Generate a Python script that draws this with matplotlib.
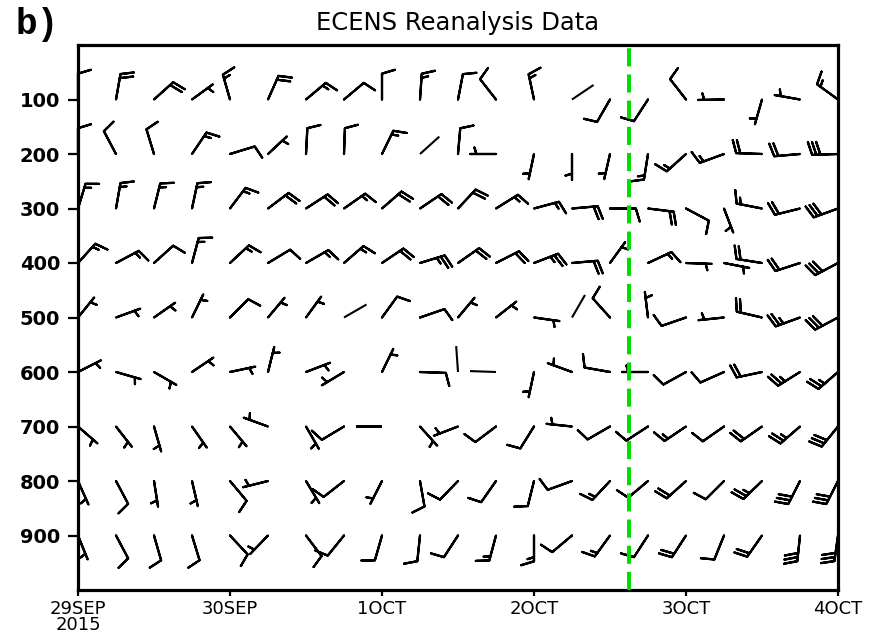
import numpy as np
import pandas as pd
import matplotlib
matplotlib.use('Agg')
import matplotlib.pyplot as plt
import matplotlib.dates as mdates

# 6-hourly times, 29 Sep 2015 00Z .. 4 Oct 2015 00Z
times = pd.date_range('2015-09-29 00:00', '2015-10-04 00:00', freq='6h')
levels = [100, 200, 300, 400, 500, 600, 700, 800, 900]

# wind speed (kt) and direction (deg, where the wind blows from), per level
wspd_100 = [10, 20, 20, 5, 15, 20, 15, 10, 10, 15, 10, 10, 15, 3, 10, 10, 10, 5, 5, 5, 15]
wdir_100 = [0, 10, 48, 54, 344, 24, 50, 50, 0, 4, 11, 322, 348, 56, 210, 213, 322, 269, 196, 280, 306]
wspd_200 = [10, 10, 10, 15, 10, 5, 10, 10, 15, 3, 10, 5, 5, 5, 5, 15, 15, 15, 20, 20, 30]
wdir_200 = [0, 332, 343, 34, 73, 47, 3, 2, 26, 48, 5, 270, 192, 180, 193, 189, 228, 250, 272, 265, 268]
wspd_300 = [15, 15, 15, 15, 15, 20, 20, 15, 20, 20, 20, 15, 15, 20, 10, 20, 10, 5, 15, 20, 30]
wdir_300 = [17, 10, 14, 12, 37, 53, 57, 55, 49, 56, 43, 58, 75, 85, 90, 97, 118, 159, 281, 256, 250]
wspd_400 = [15, 15, 10, 15, 15, 10, 15, 15, 20, 25, 20, 20, 25, 20, 5, 15, 5, 5, 20, 20, 30]
wdir_400 = [42, 62, 48, 15, 47, 59, 60, 49, 56, 73, 55, 63, 69, 85, 36, 65, 92, 101, 279, 252, 242]
wspd_500 = [5, 5, 5, 5, 10, 5, 5, 3, 10, 10, 5, 5, 5, 3, 10, 5, 10, 5, 20, 25, 30]
wdir_500 = [39, 70, 55, 26, 45, 40, 36, 60, 36, 71, 40, 52, 98, 30, 318, 353, 251, 264, 283, 250, 242]
wspd_600 = [5, 5, 5, 5, 5, 5, 5, 5, 5, 10, 3, 3, 5, 5, 10, 5, 10, 10, 20, 25, 25]
wdir_600 = [63, 106, 120, 56, 78, 14, 69, 239, 26, 92, 356, 272, 192, 290, 280, 270, 241, 246, 258, 238, 229]
wspd_700 = [5, 5, 5, 5, 5, 5, 5, 10, 3, 5, 5, 10, 10, 5, 10, 10, 15, 10, 20, 25, 30]
wdir_700 = [131, 142, 164, 145, 140, 290, 150, 239, 270, 138, 249, 233, 212, 276, 240, 237, 236, 235, 235, 229, 219]
wspd_800 = [5, 10, 5, 5, 10, 5, 5, 10, 5, 10, 10, 10, 10, 10, 15, 10, 20, 10, 25, 30, 30]
wdir_800 = [156, 152, 171, 167, 140, 256, 149, 232, 207, 170, 224, 215, 194, 250, 223, 230, 228, 225, 226, 207, 207]
wspd_900 = [5, 10, 10, 10, 10, 5, 10, 10, 10, 10, 10, 15, 15, 10, 15, 10, 20, 10, 20, 30, 30]
wdir_900 = [158, 152, 164, 163, 137, 224, 143, 219, 196, 186, 213, 195, 180, 230, 216, 213, 213, 202, 215, 186, 188]

xtick_dates = ['2015-09-29', '2015-09-30', '2015-10-01', '2015-10-02', '2015-10-03', '2015-10-04']
xtick_labels = ['29SEP\n2015', '30SEP', '1OCT', '2OCT', '3OCT', '4OCT']
mark_time = '2015-10-02 15:00'

wspd = np.array([wspd_100, wspd_200, wspd_300, wspd_400, wspd_500,
                 wspd_600, wspd_700, wspd_800, wspd_900], dtype=float)
wdir = np.array([wdir_100, wdir_200, wdir_300, wdir_400, wdir_500,
                 wdir_600, wdir_700, wdir_800, wdir_900], dtype=float)

x = mdates.date2num(times)
X, Y = np.meshgrid(x, levels)
rad = np.deg2rad(wdir)
U = -wspd * np.sin(rad)
V = -wspd * np.cos(rad)

calm = wspd < 5
Ub = np.where(calm, np.nan, U)
Vb = np.where(calm, np.nan, V)

fig = plt.figure(figsize=(8.79, 6.35), dpi=100)
ax = fig.add_axes([78 / 879, 1 - 590 / 635, 760 / 879, 545 / 635])

ax.barbs(X, Y, Ub, Vb, length=6.1, linewidth=1.6, color='black',
         sizes=dict(spacing=0.16, height=0.5, width=0.3, emptybarb=0.0),
         clip_on=False, zorder=3)

# light winds: staff only, pointing to where the wind comes from
ax.quiver(X[calm], Y[calm], -U[calm] / wspd[calm], -V[calm] / wspd[calm],
          angles='uv', pivot='tail', scale_units='inches', scale=1 / 0.26,
          units='inches', width=0.021, headwidth=0, headlength=0,
          headaxislength=0, color='black', zorder=3)

ax.axvline(mdates.date2num(pd.Timestamp(mark_time)), color='#00dd00',
           lw=2.9, ls=(0, (4.5, 2)), zorder=4)

ax.set_xlim(x[0], x[-1])
ax.set_ylim(1000, 0)
ax.set_yticks(levels)
ax.set_yticklabels([str(l) for l in levels], fontsize=14, fontweight='bold')
ax.set_xticks(mdates.date2num(pd.to_datetime(xtick_dates)))
ax.set_xticklabels(xtick_labels, fontsize=13, linespacing=0.85)
ax.tick_params(axis='y', length=7, width=1.6, pad=6)
ax.tick_params(axis='x', length=4, width=1.6, pad=3)
for s in ax.spines.values():
    s.set_linewidth(2.3)

fig.text(458 / 879, 1 - 23 / 635, 'ECENS Reanalysis Data', fontsize=17.5,
         ha='center', va='center')
fig.text(15 / 879, 1 - 24 / 635, 'b)', fontsize=26, fontweight='bold',
         family='Liberation Mono', ha='left', va='center')

fig.savefig('out.png', dpi=100)
